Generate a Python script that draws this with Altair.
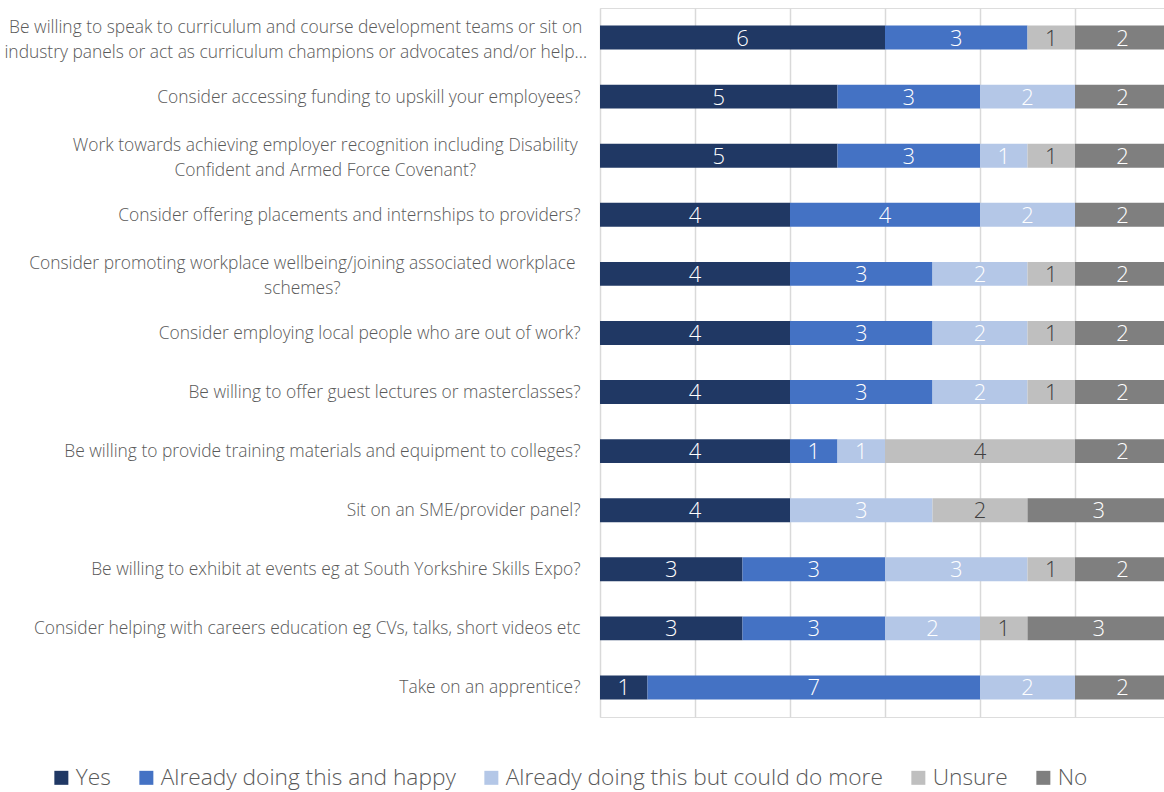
import altair as alt
import pandas as pd

questions = [
    "Be willing to speak to curriculum and course development teams or sit on\nindustry panels or act as curriculum champions or advocates and/or help...",
    "Consider accessing funding to upskill your employees?",
    "Work towards achieving employer recognition including Disability\nConfident and Armed Force Covenant?",
    "Consider offering placements and internships to providers?",
    "Consider promoting workplace wellbeing/joining associated workplace\nschemes?",
    "Consider employing local people who are out of work?",
    "Be willing to offer guest lectures or masterclasses?",
    "Be willing to provide training materials and equipment to colleges?",
    "Sit on an SME/provider panel?",
    "Be willing to exhibit at events eg at South Yorkshire Skills Expo?",
    "Consider helping with careers education eg CVs, talks, short videos etc",
    "Take on an apprentice?",
]
series = ["Yes", "Already doing this and happy", "Already doing this but could do more", "Unsure", "No"]
yes = [6, 5, 5, 4, 4, 4, 4, 4, 4, 3, 3, 1]
happy = [3, 3, 3, 4, 3, 3, 3, 1, 0, 3, 3, 7]
more = [0, 2, 1, 2, 2, 2, 2, 1, 3, 3, 2, 2]
unsure = [1, 0, 1, 0, 1, 1, 1, 4, 2, 1, 1, 0]
no = [2, 2, 2, 2, 2, 2, 2, 2, 3, 2, 3, 2]
colors = ["#203864", "#4472C4", "#B4C7E7", "#BFBFBF", "#7F7F7F"]

rows = []
for qi, q in enumerate(questions):
    for si, (s, vals) in enumerate(zip(series, [yes, happy, more, unsure, no])):
        if vals[qi] > 0:
            rows.append({"question": q, "series": s, "order": si, "value": vals[qi]})
df = pd.DataFrame(rows)

FONT = "Open Sans"
single = "indexof(datum.label, '\\n') < 0"
first_line = "split(datum.label, '\\n')[0]"
narrow = "replace(" + first_line + ", regexp('[^iljtfr /]', 'g'), '')"
# multi-line labels: centred lines, block right-aligned next to the plot
half_width = "5.39 * length(" + first_line + ") - 3.39 * length(" + narrow + ")"

y_enc = alt.Y(
    "question:N",
    sort=questions,
    title=None,
    scale=alt.Scale(paddingInner=0.594, paddingOuter=0.297),
    axis=alt.Axis(
        labelExpr="split(datum.label, '\\n')",
        labelFont=FONT,
        labelFontSize=17.4,
        labelFontWeight=300,
        labelColor="#595959",
        labelLineHeight=25,
        labelAlign={"condition": {"test": single, "value": "right"}, "value": "center"},
        labelPadding={
            "condition": {"test": single, "value": 20},
            "expr": "15 + " + half_width,
        },
        labelOffset={"condition": {"test": single, "value": 1}, "value": -10},
        labelLimit=700,
        ticks=False,
        domain=False,
    ),
)

base = alt.Chart(df).transform_stack(
    stack="value",
    as_=["start", "end"],
    groupby=["question"],
    sort=[alt.SortField("order", "ascending")],
).transform_calculate(mid="(datum.start + datum.end) / 2")

x_scale = alt.Scale(domain=[0, 12 * 564 / 570], nice=False, zero=True)

bars = base.mark_bar(clip=True).encode(
    y=y_enc,
    x=alt.X(
        "start:Q",
        scale=x_scale,
        axis=alt.Axis(
            values=[0, 2, 4, 6, 8, 10],
            grid=True,
            gridColor="#d9d9d9",
            gridWidth=1.5,
            labels=False,
            ticks=False,
            domain=False,
            title=None,
        ),
    ),
    x2="end:Q",
    color=alt.Color(
        "series:N",
        sort=series,
        scale=alt.Scale(domain=series, range=colors),
        legend=alt.Legend(
            title=None,
            orient="none",
            direction="horizontal",
            legendX=-550,
            legendY=758,
            symbolType="square",
            symbolSize=196,
            symbolStrokeWidth=0,
            labelFont=FONT,
            labelFontSize=22.7,
            labelFontWeight=300,
            labelColor="#595959",
            labelOffset=3,
            columnPadding=24,
            labelLimit=500,
        ),
    ),
    order=alt.Order("order:Q"),
)

labels = base.mark_text(font=FONT, fontSize=22, fontWeight=300, baseline="middle", dy=1).encode(
    y=alt.Y("question:N", sort=questions),
    x=alt.X("mid:Q"),
    text=alt.Text("value:Q"),
    color=alt.condition(
        alt.datum.series == "Unsure", alt.value("#404040"), alt.value("#ffffff")
    ),
)

chart = (
    alt.layer(bars, labels)
    .properties(
        width=564,
        height=709,
        autosize=alt.AutoSizeParams(type="none"),
        padding={"left": 600, "top": 8, "right": 0, "bottom": 75},
    )
    .configure_view(stroke=None)
    .configure(background="white")
)

chart.save("out.html", embed_options={"renderer": "svg", "actions": False})
